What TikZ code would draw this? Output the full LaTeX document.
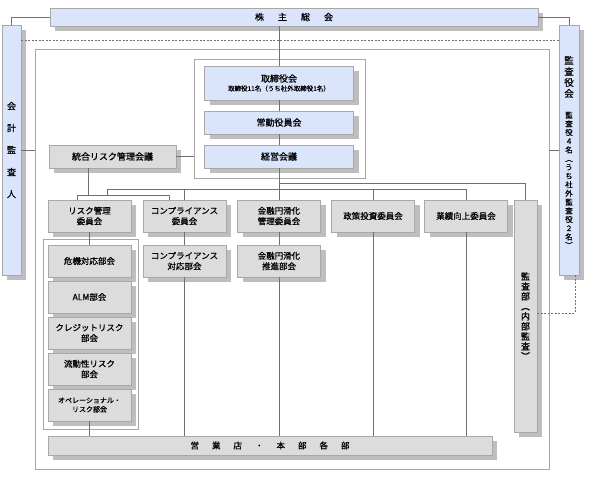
\documentclass[tikz,border=0pt]{standalone}
\usepackage{fontspec}
\setmainfont{Noto Sans CJK JP}[FakeBold=0.8]
\usetikzlibrary{calc,shadows}

\definecolor{boxblue}{HTML}{DAE4FA}
\definecolor{boxgray}{HTML}{DCDCDC}
\definecolor{shadowgray}{HTML}{BEBEBE}
\definecolor{edgegray}{HTML}{A8A8A8}
\definecolor{linegray}{HTML}{707070}

\tikzset{
  box/.style={draw=edgegray, line width=0.8pt, inner sep=0pt, outer sep=0pt, align=center,
    font=\fontsize{8.5}{10.5}\selectfont,
    general shadow={fill=shadowgray, shadow xshift=5pt, shadow yshift=-5pt}},
  bluebox/.style={box, fill=boxblue},
  graybox/.style={box, fill=boxgray},
  boardw/.style={minimum width=149pt, minimum height=23pt, font=\fontsize{9}{11}\selectfont},
  cmtw/.style={minimum width=83pt, minimum height=32pt},
  frame/.style={draw=edgegray, line width=0.8pt, inner sep=0pt, outer sep=0pt},
  link/.style={draw=linegray, line width=0.7pt},
  dotlink/.style={link, dash pattern=on 2pt off 1.5pt},
  tate/.style={inner sep=0pt, align=center},
}

\begin{document}
\begin{tikzpicture}[x=1pt,y=-1pt]
  \useasboundingbox (0,0) rectangle (595,486);

  % frames
  \node[frame, minimum width=514pt, minimum height=420pt] (outer) at (292,259) {};
  \node[frame, minimum width=171pt, minimum height=119pt] (board) at (279.5,118.5) {};
  \node[frame, minimum width=95pt, minimum height=190pt] (riskgrp) at (90.5,334) {};

  % top level
  \node[bluebox, minimum width=488pt, minimum height=18pt, font=\fontsize{9}{11}\selectfont] (soukai) at (294,17)
    {株\hspace{14pt}主\hspace{14pt}総\hspace{14pt}会};
  \node[bluebox, minimum width=19pt, minimum height=250pt, font=\fontsize{9}{22}\selectfont] (kaikei) at (11.5,150)
    {会\\計\\監\\査\\人};
  \node[bluebox, minimum width=20pt, minimum height=250pt] (kansayaku) at (569,150) {};
  \node[tate, font=\fontsize{9.5}{11}\selectfont] (kansayakuT) at (569,77) {監\\査\\役\\会};
  \node[tate, font=\fontsize{7.5}{8.7}\selectfont] (kansayakuN) at (569,180)
    {監\\査\\役\\４\\名\\︵\\う\\ち\\社\\外\\監\\査\\役\\２\\名\\︶};

  % board
  \node[bluebox, minimum width=149pt, minimum height=34pt, font=\fontsize{6.5}{8}\selectfont] (torishimari) at (279,83)
    {{\fontsize{9}{11}\selectfont 取締役会}\\[1pt]取締役11名（うち社外取締役1名）};
  \node[bluebox, boardw] (jokin) at (279,122.5) {常勤役員会};
  \node[bluebox, boardw] (keiei) at (279,156.5) {経営会議};
  \node[graybox, minimum width=127pt, minimum height=23pt, font=\fontsize{9}{11}\selectfont] (tougou) at (112.5,156.5) {統合リスク管理会議};

  % committees
  \node[graybox, cmtw] (risk) at (89.5,216) {リスク管理\\委員会};
  \node[graybox, cmtw] (comp) at (184.5,216) {コンプライアンス\\委員会};
  \node[graybox, cmtw] (kinyu) at (279,216) {金融円滑化\\管理委員会};
  \node[graybox, cmtw] (seisaku) at (373,216) {政策投資委員会};
  \node[graybox, cmtw] (gyoseki) at (466,216) {業績向上委員会};
  \node[graybox, minimum width=23pt, minimum height=232pt, font=\fontsize{9}{10}\selectfont] (kansabu) at (525.5,316)
    {監\\査\\部\\︵\\内\\部\\監\\査\\︶};

  \node[graybox, cmtw] (compT) at (184.5,261) {コンプライアンス\\対応部会};
  \node[graybox, cmtw] (kinyuS) at (279,261) {金融円滑化\\推進部会};

  \node[graybox, cmtw] (kiki) at (89.5,261) {危機対応部会};
  \node[graybox, cmtw] (alm) at (89.5,297) {ALM部会};
  \node[graybox, cmtw] (credit) at (89.5,333) {クレジットリスク\\部会};
  \node[graybox, cmtw] (ryudo) at (89.5,369) {流動性リスク\\部会};
  \node[graybox, cmtw, font=\fontsize{7}{9}\selectfont] (ope) at (89.5,405) {オペレーショナル・\\リスク部会};

  \node[graybox, minimum width=444pt, minimum height=19pt] (eigyo) at (270,445.5)
    {営\hspace{13pt}業\hspace{13pt}店\hspace{13pt}・\hspace{13pt}本\hspace{13pt}部\hspace{13pt}各\hspace{13pt}部};

  % connectors
  \draw[link] (soukai.west) -| (kaikei.north);
  \draw[link] (soukai.east) -| (kansayaku.north);
  \draw[dotlink] ($(kaikei.north east)+(0,15)$) -- ($(kansayaku.north west)+(0,15)$);
  \draw[link] (kaikei.east) -- (kaikei.east -| outer.west);
  \draw[link] (kansayaku.west) -- (kansayaku.west -| outer.east);

  \draw[link] (soukai.south -| torishimari.north) -- (torishimari.north);
  \draw[link] (torishimari.south) -- (jokin.north);
  \draw[link] (jokin.south) -- (keiei.north);
  \draw[link] (keiei.south) -- (kinyu.north);
  \draw[link] (tougou.east) -- (tougou.east -| board.west);

  \coordinate (busA) at (0,183);
  \coordinate (busB) at (0,189);
  \coordinate (tgdrop) at (88,195);
  \coordinate (rkdrop) at (77,195);
  \coordinate (cpdrop) at (169,195);
  \coordinate (bjoin) at (107,195);

  \draw[link] (keiei.south |- busA) -| (kansabu.north);
  \draw[link] (bjoin) |- (gyoseki.north |- busB) -- (gyoseki.north);
  \draw[link] (comp.north |- busB) -- (comp.north);
  \draw[link] (seisaku.north |- busB) -- (seisaku.north);
  \draw[link] (tgdrop |- tougou.south) -- (tgdrop);
  \draw[link] (rkdrop |- risk.north) |- (cpdrop) -- (cpdrop |- comp.north);

  \draw[link] (risk.south) -- (kiki.north);
  \draw[link] (ope.south) -- (ope.south |- eigyo.north);
  \draw[link] (comp.south) -- (compT.north);
  \draw[link] (compT.south) -- (compT.south |- eigyo.north);
  \draw[link] (kinyu.south) -- (kinyuS.north);
  \draw[link] (kinyuS.south) -- (kinyuS.south |- eigyo.north);
  \draw[link] (seisaku.south) -- (seisaku.south |- eigyo.north);
  \draw[link] (gyoseki.south) -- (gyoseki.south |- eigyo.north);

  \coordinate (kdash) at (575,313);
  \draw[dotlink] (kansabu.east |- kdash) -| (kansayaku.south -| kdash);
\end{tikzpicture}
\end{document}
